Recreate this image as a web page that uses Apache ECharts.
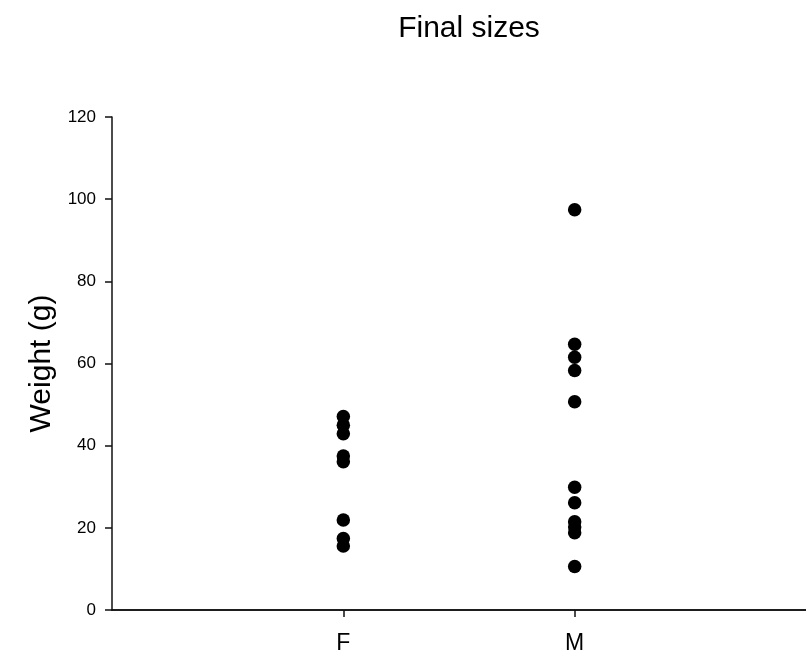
<!DOCTYPE html>
<html>
<head>
<meta charset="utf-8">
<script src="https://cdn.jsdelivr.net/npm/echarts@6/dist/echarts.min.js"></script>
<style>html,body{margin:0;padding:0;background:#fff;}#c{width:806px;height:660px;}</style>
</head>
<body>
<div id="c"></div>
<script>
var categories = ['F', 'M'];
var weightsF = [47.1, 45.0, 42.9, 37.5, 36.1, 21.9, 17.4, 15.6];
var weightsM = [97.4, 64.7, 61.5, 58.3, 50.7, 29.9, 26.1, 21.5, 20.2, 18.8, 10.6];
var yTicks = [0, 20, 40, 60, 80, 100, 120];

var groups = [weightsF, weightsM];
var points = [];
groups.forEach(function (arr, i) {
  arr.forEach(function (v) { points.push([i + 1, v]); });
});

var font = 'Liberation Sans, Arial, sans-serif';
var chart = echarts.init(document.getElementById('c'), null, {renderer: 'canvas'});
chart.setOption({
  backgroundColor: '#fff',
  animation: false,
  title: {
    text: 'Final sizes',
    left: 464, top: 9, textAlign: 'center',
    textStyle: {fontFamily: font, fontWeight: 'normal', fontSize: 30, color: '#000'}
  },
  grid: {left: 112, top: 117, width: 705, height: 493},
  xAxis: [{
    type: 'value', min: 0, max: 3, interval: 1,
    axisLine: {show: true, onZero: false, lineStyle: {color: '#111', width: 1.5}},
    axisTick: {show: true, customValues: [1, 2], length: 7, lineStyle: {color: '#111', width: 1.5}},
    axisLabel: {
      customValues: [1, 2],
      formatter: function (v) { return categories[v - 1] || ''; },
      fontFamily: font, fontSize: 23, color: '#000', margin: 22
    },
    splitLine: {show: false}
  }, {
    type: 'value', min: 0, max: 3, position: 'top',
    axisLine: {show: true, lineStyle: {color: '#111', width: 1.5}},
    axisTick: {show: false}, axisLabel: {show: false}, splitLine: {show: false}
  }],
  yAxis: {
    type: 'value', min: yTicks[0], max: yTicks[yTicks.length - 1], interval: 20,
    name: 'Weight (g)', nameLocation: 'middle', nameGap: 52,
    nameTextStyle: {fontFamily: font, fontSize: 30, color: '#000'},
    axisLine: {show: true, lineStyle: {color: '#111', width: 1.5}},
    axisTick: {show: true, length: 7, lineStyle: {color: '#111', width: 1.5}},
    axisLabel: {fontFamily: font, fontSize: 17, color: '#000', margin: 16},
    splitLine: {show: false}
  },
  series: [{
    type: 'scatter', data: points, symbol: 'circle', symbolSize: 13.5,
    itemStyle: {color: '#000', opacity: 1}, clip: false
  }]
});
</script>
</body>
</html>
